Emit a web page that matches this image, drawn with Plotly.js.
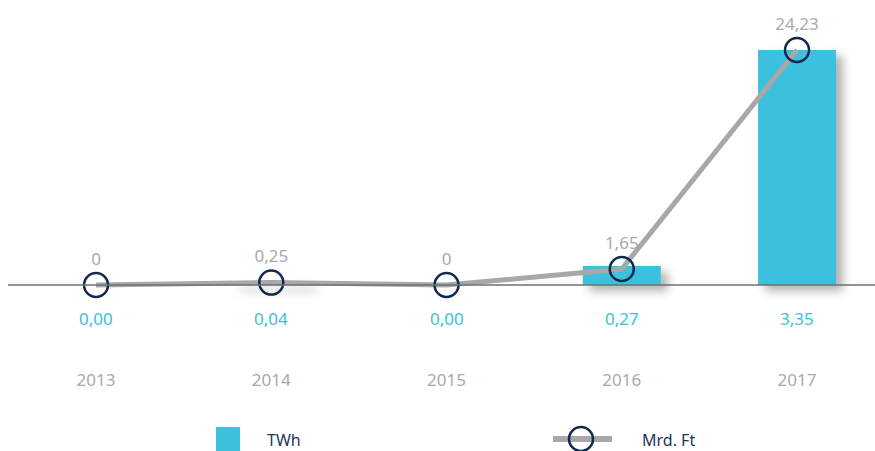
<!DOCTYPE html>
<html><head><meta charset="utf-8">
<script src="https://cdn.plot.ly/plotly-3.0.1.min.js"></script>
<style>html,body{margin:0;padding:0;background:#fff}#chart{width:875px;height:451px}</style>
</head><body><div id="chart"></div>
<script>
const years = ['2013','2014','2015','2016','2017'];
const twh = [0.00, 0.04, 0.00, 0.27, 3.35];
const twhLabels = ['0,00','0,04','0,00','0,27','3,35'];
const mrdFt = [0, 0.25, 0, 1.65, 24.23];
const mrdFtLabels = ['0','0,25','0','1,65','24,23'];
const legendNames = ['TWh','Mrd. Ft'];

const CYAN = '#3bc1dd', GRAY = '#a8a8ab', NAVY = '#0f2a4c';
const FONT = 'Noto Sans, sans-serif';
const W = 875, PH = 368;
const px = p => p / W;
const py = p => (PH - p) / PH;

const traces = [
  {type:'bar', x: years, y: twh, marker:{color: CYAN}, width: 0.445, yaxis:'y', hoverinfo:'skip', showlegend:false},
  {type:'scatter', mode:'lines+markers+text', x: years, y: mrdFt, yaxis:'y2',
   line:{color: GRAY, width: 5},
   marker:{symbol:'circle-open', size: 24, color: NAVY, line:{width: 2.5, color: NAVY}},
   text: mrdFtLabels, textposition:'top center', textfont:{color:'#a9a9ac', size:17, family: FONT},
   cliponaxis:false, hoverinfo:'skip', showlegend:false}
];

const annotations = years.map((yr, i) => ({
  x: i, y: 0, xref:'x', yref:'y', text: twhLabels[i], showarrow:false,
  xanchor:'center', yanchor:'middle', yshift:-33, font:{color: CYAN, size:17, family: FONT}
}));
annotations.push({x: px(265), y: py(440), xref:'paper', yref:'paper', xanchor:'left', yanchor:'middle',
  text: legendNames[0], showarrow:false, font:{color:'#1f3556', size:16, family: FONT}});
annotations.push({x: px(640), y: py(440), xref:'paper', yref:'paper', xanchor:'left', yanchor:'middle',
  text: legendNames[1], showarrow:false, font:{color:'#1f3556', size:16, family: FONT}});

const shapes = [
  {type:'line', xref:'paper', yref:'y', x0: px(8), x1: 1, y0: 0, y1: 0, line:{color:'#6f6f72', width:1.5}, layer:'above'},
  {type:'rect', xref:'paper', yref:'paper', x0: px(216), x1: px(240), y0: py(427), y1: py(451), fillcolor: CYAN, line:{width:0}},
  {type:'line', xref:'paper', yref:'paper', x0: px(553), x1: px(612), y0: py(439), y1: py(439), line:{color: GRAY, width:6}},
  {type:'circle', xref:'paper', yref:'paper', x0: px(569), x1: px(593), y0: py(451), y1: py(427), line:{color: NAVY, width:2.5}, fillcolor:'rgba(0,0,0,0)'}
];

const layout = {
  width: W, height: 451,
  margin:{l:0, r:0, t:0, b:451-PH},
  paper_bgcolor:'#fff', plot_bgcolor:'#fff',
  showlegend:false,
  font:{family: FONT},
  xaxis:{type:'category', range:[-0.548, 4.445], showgrid:false, zeroline:false, showline:false,
         ticks:'', tickfont:{color:'#a9a9ac', size:17, family: FONT}, fixedrange:true},
  yaxis:{range:[-1.183, 4.063], showgrid:false, zeroline:false, showline:false, showticklabels:false, ticks:'', fixedrange:true},
  yaxis2:{range:[-8.558, 29.385], overlaying:'y', showgrid:false, zeroline:false, showline:false, showticklabels:false, ticks:'', fixedrange:true},
  annotations, shapes
};

Plotly.newPlot('chart', traces, layout, {displayModeBar:false, staticPlot:true}).then(() => {
  document.querySelectorAll('.bars .point path').forEach(p => {
    p.style.filter = 'drop-shadow(7px 6px 5px rgba(0,0,0,0.3))';
  });
});
</script></body></html>
